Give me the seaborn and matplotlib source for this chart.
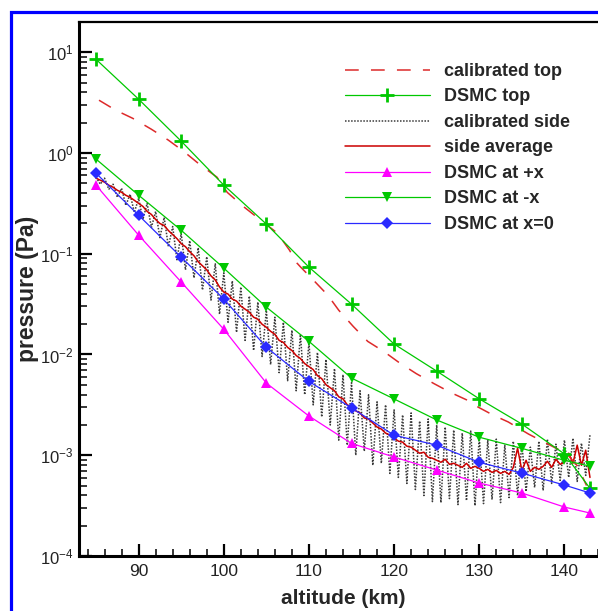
import numpy as np
import pandas as pd
import matplotlib
matplotlib.use("Agg")
import matplotlib.pyplot as plt
from matplotlib.patches import Rectangle
from matplotlib.ticker import MultipleLocator, LogLocator, LogFormatterSciNotation, NullFormatter
import seaborn as sns

# ---------------- data ----------------
dsmc_alt = [85, 90, 95, 100, 105, 110, 115, 120, 125, 130, 135, 140, 143]
dsmc_top = [8.5, 3.42, 1.31, 0.48, 0.197, 0.0736, 0.0316, 0.0127, 0.00684, 0.00363, 0.00204, 0.00103, 0.00047]
dsmc_minus_x = [0.87, 0.381, 0.171, 0.072, 0.0295, 0.0135, 0.00583, 0.00362, 0.00224, 0.00151, 0.00117, 0.00089, 0.00078]
dsmc_zero_x = [0.63, 0.241, 0.0925, 0.0355, 0.0118, 0.0054, 0.00295, 0.00158, 0.00126, 0.00085, 0.000665, 0.000506, 0.000422]
dsmc_plus_x = [0.479, 0.153, 0.0524, 0.0178, 0.0052, 0.00245, 0.00131, 0.00096, 0.000713, 0.00053, 0.000422, 0.000306, 0.000267]

cal_top_alt = [85.35, 87.3, 89.3, 91.5, 93.5, 95.4, 97.0, 99.2, 100.4, 102.4, 104.5, 106.3, 107.7,
               108.6, 109.0, 110.5, 112.2, 113.5, 115.2, 116.9, 118.8, 120.6, 122.6, 124.7, 126.7,
               128.5, 129.6, 131.6, 133.4, 135.8, 137.4, 138.8, 140.2, 141.5, 142.6]
cal_top = [3.34, 2.66, 2.21, 1.72, 1.34, 1.02, 0.79, 0.575, 0.407, 0.29, 0.21, 0.16, 0.109,
           0.0807, 0.0741, 0.055, 0.0389, 0.0275, 0.019, 0.0135, 0.0107, 0.0083, 0.00646, 0.00513, 0.00417,
           0.00355, 0.00309, 0.00251, 0.00214, 0.00162, 0.00138, 0.0012, 0.00105, 0.00079, 0.0005]

# calibrated side: alternating maxima (whole km) and minima (half km), log10(Pa)
side_peak_alt = list(range(85, 144))
side_peak_log10 = [-0.24, -0.25, -0.31, -0.35, -0.41, -0.45, -0.50, -0.58, -0.64, -0.73,
                   -0.80, -0.87, -0.94, -1.03, -1.10, -1.19, -1.27, -1.33, -1.42, -1.48,
                   -1.56, -1.63, -1.68, -1.76, -1.80, -1.88, -1.98, -2.05, -2.14, -2.20,
                   -2.28, -2.36, -2.40, -2.47, -2.50, -2.55, -2.60, -2.58, -2.66, -2.64,
                   -2.70, -2.72, -2.75, -2.78, -2.76, -2.82, -2.85, -2.84, -2.90, -2.86,
                   -2.88, -2.92, -2.86, -2.84, -2.89, -2.85, -2.83, -2.88, -2.80]
side_trough_alt = [a + 0.5 for a in range(85, 143)]
side_trough_log10 = [-0.31, -0.36, -0.44, -0.52, -0.59, -0.66, -0.74, -0.84, -0.93, -1.06,
                     -1.16, -1.24, -1.36, -1.46, -1.60, -1.68, -1.78, -1.86, -1.96, -2.02,
                     -2.10, -2.18, -2.26, -2.36, -2.40, -2.50, -2.62, -2.70, -2.85, -2.90,
                     -3.00, -2.96, -3.10, -3.08, -3.18, -3.22, -3.28, -3.34, -3.40, -3.46,
                     -3.47, -3.43, -3.49, -3.45, -3.50, -3.48, -3.44, -3.47, -3.42, -3.40,
                     -3.36, -3.32, -3.35, -3.28, -3.25, -3.22, -3.26, -3.20]

# side average, every 0.5 km, log10(Pa)
side_avg_alt = [85 + 0.5 * i for i in range(117)]
side_avg_log10 = [-0.25, -0.27, -0.29, -0.32, -0.34, -0.37, -0.39, -0.42, -0.44, -0.47,
                  -0.50, -0.53, -0.58, -0.61, -0.66, -0.70, -0.72, -0.77, -0.81, -0.85,
                  -0.90, -0.93, -0.98, -1.02, -1.08, -1.12, -1.16, -1.22, -1.26, -1.33,
                  -1.38, -1.40, -1.45, -1.47, -1.52, -1.55, -1.58, -1.63, -1.65, -1.70,
                  -1.73, -1.77, -1.80, -1.86, -1.88, -1.93, -1.96, -2.01, -2.04, -2.09,
                  -2.12, -2.15, -2.21, -2.24, -2.30, -2.33, -2.36, -2.42, -2.44, -2.50,
                  -2.52, -2.56, -2.58, -2.63, -2.64, -2.68, -2.72, -2.74, -2.78, -2.80,
                  -2.83, -2.86, -2.87, -2.91, -2.92, -2.95, -2.98, -2.97, -3.02, -3.03,
                  -3.05, -3.07, -3.04, -3.09, -3.08, -3.10, -3.12, -3.08, -3.13, -3.11,
                  -3.13, -3.16, -3.14, -3.17, -3.15, -3.18, -3.16, -3.19, -3.12, -2.93,
                  -3.15, -3.05, -3.16, -3.12, -3.14, -3.11, -3.06, -3.12, -3.04, -3.09,
                  -3.07, -2.98, -3.08, -2.90, -3.10, -2.95, -3.22]

# ---------------- style ----------------
sns.set_style("white")
plt.rcParams["font.family"] = ["Liberation Sans", "DejaVu Sans"]
plt.rcParams["mathtext.fontset"] = "custom"
plt.rcParams["mathtext.rm"] = "Liberation Sans"
plt.rcParams["axes.unicode_minus"] = False

W, H = 598, 611
fig = plt.figure(figsize=(W / 100, H / 100), dpi=100)
ax = fig.add_axes([79 / W, 1 - 556 / H, 528 / W, 534 / H])

side_df = pd.DataFrame({
    "alt": side_peak_alt + side_trough_alt,
    "p": list(np.power(10.0, side_peak_log10)) + list(np.power(10.0, side_trough_log10)),
}).sort_values("alt")
top_df = pd.DataFrame({"alt": cal_top_alt, "p": cal_top})
avg_df = pd.DataFrame({"alt": side_avg_alt, "p": np.power(10.0, side_avg_log10)})
dsmc_df = pd.DataFrame({"alt": dsmc_alt, "top": dsmc_top, "mx": dsmc_minus_x,
                        "zx": dsmc_zero_x, "px": dsmc_plus_x})

green = "#00c800"
magenta = "#ff00ff"
blue = "#2a2aff"

sns.lineplot(data=side_df, x="alt", y="p", ax=ax, estimator=None, sort=False,
             color="#3a3a3a", lw=1.1, linestyle=(0, (1, 1)), label="calibrated side")
sns.lineplot(data=avg_df, x="alt", y="p", ax=ax, estimator=None,
             color="#cc0000", lw=1.1, label="side average")
sns.lineplot(data=top_df, x="alt", y="p", ax=ax, estimator=None,
             color="#dd2a2a", lw=1.1, linestyle=(0, (9, 8)), label="calibrated top")
sns.lineplot(data=dsmc_df, x="alt", y="top", ax=ax, estimator=None, color=green, lw=0.9,
             marker="+", markersize=10, markeredgewidth=2.0, markeredgecolor=green,
             label="DSMC top")
sns.lineplot(data=dsmc_df, x="alt", y="px", ax=ax, estimator=None, color=magenta, lw=0.9,
             marker="^", markersize=7, markeredgewidth=0, markeredgecolor=magenta,
             label="DSMC at +x")
sns.lineplot(data=dsmc_df, x="alt", y="mx", ax=ax, estimator=None, color=green, lw=0.9,
             marker="v", markersize=7, markeredgewidth=0, markeredgecolor=green,
             label="DSMC at -x")
sns.lineplot(data=dsmc_df, x="alt", y="zx", ax=ax, estimator=None, color=blue, lw=0.9,
             marker="D", markersize=6, markeredgewidth=0, markeredgecolor=blue,
             label="DSMC at x=0")

ax.set_yscale("log")
ax.set_xlim(83, 145)
ax.set_ylim(1e-4, 10 ** 1.3)

ax.set_xticks([90, 100, 110, 120, 130, 140])
ax.xaxis.set_minor_locator(MultipleLocator(2))
ax.set_yticks([1e-4, 1e-3, 1e-2, 1e-1, 1e0, 1e1])
ax.yaxis.set_minor_locator(LogLocator(base=10, subs=np.arange(2, 10), numticks=20))
ax.yaxis.set_major_formatter(LogFormatterSciNotation())
ax.yaxis.set_minor_formatter(NullFormatter())

ax.tick_params(axis="both", which="both", direction="in", top=False, right=False,
               left=True, bottom=True, color="black", labelcolor="#222222")
ax.tick_params(axis="y", which="major", length=9.5, width=1.6, pad=4, labelsize=12)
ax.tick_params(axis="y", which="minor", length=6, width=1.1)
ax.tick_params(axis="x", which="major", length=9, width=1.6, pad=6, labelsize=12.5)
ax.tick_params(axis="x", which="minor", length=5, width=1.1)

for side in ["left", "bottom"]:
    ax.spines[side].set_linewidth(2.2)
    ax.spines[side].set_color("black")
ax.spines["top"].set_linewidth(1.6)
ax.spines["top"].set_color("black")
ax.spines["right"].set_visible(False)

ax.set_xlabel("altitude (km)", fontsize=15, fontweight="bold", labelpad=7)
ax.set_ylabel("pressure (Pa)", fontsize=16.5, fontweight="bold")
ax.yaxis.set_label_coords(-0.075, 0.5)

handles, labels = ax.get_legend_handles_labels()
order = ["calibrated top", "DSMC top", "calibrated side", "side average",
         "DSMC at +x", "DSMC at -x", "DSMC at x=0"]
hmap = dict(zip(labels, handles))
ax.legend([hmap[k] for k in order], order, loc="upper left",
          bbox_to_anchor=(345 / W, 1 - 63 / H), bbox_transform=fig.transFigure,
          frameon=False, borderpad=0, borderaxespad=0, handlelength=4.7,
          handletextpad=0.8, labelspacing=0.47, numpoints=1,
          prop={"family": ["Liberation Sans", "DejaVu Sans"], "weight": "bold", "size": 13})

fig.patches.append(Rectangle((10.5 / W, -0.5), 2.0, 1.5 - 11.5 / H, transform=fig.transFigure,
                             fill=False, edgecolor="#0000ff", lw=2.3, zorder=10))

fig.savefig("out.png", dpi=100)
